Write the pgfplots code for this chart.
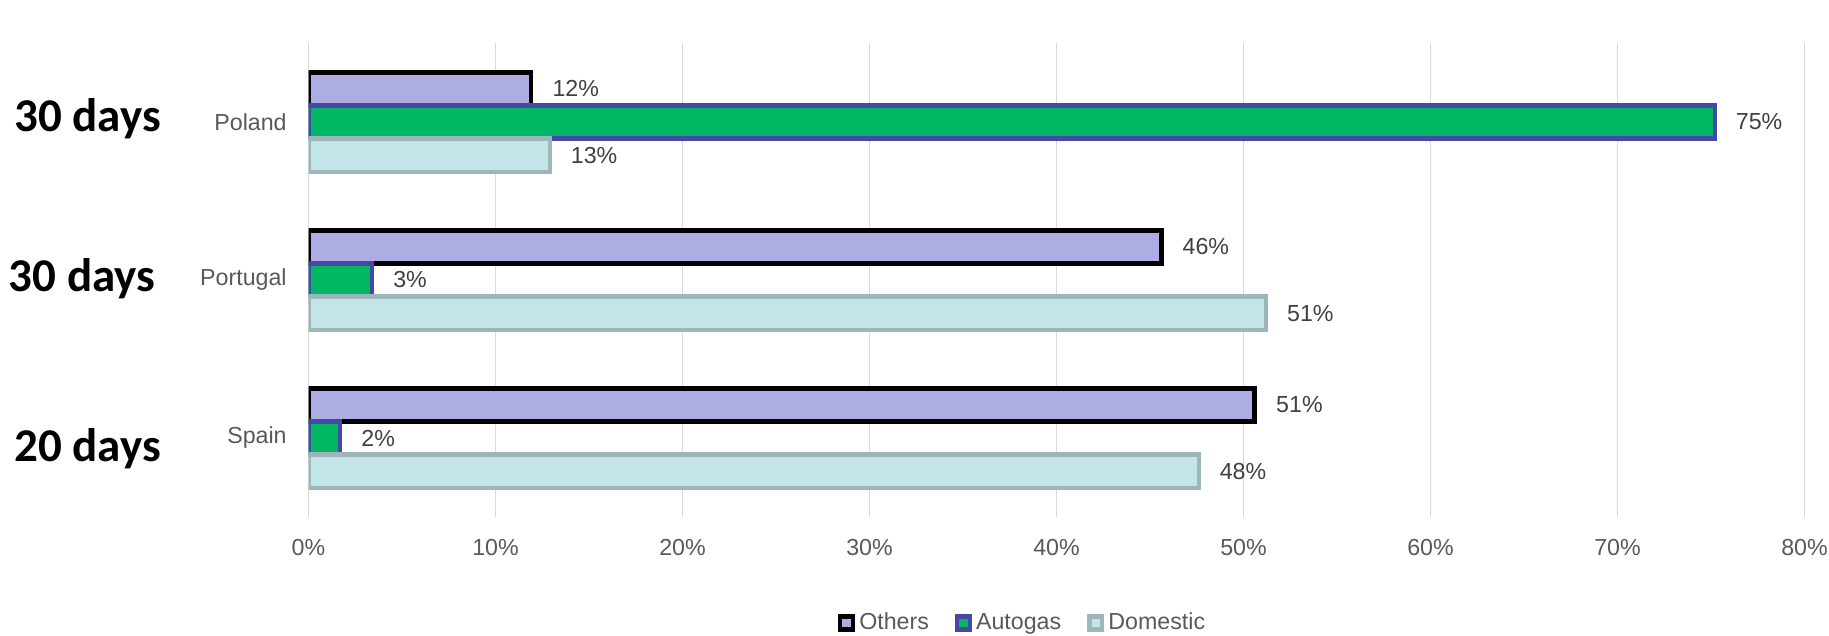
\documentclass[border=0pt]{standalone}
\usepackage{pgfplots}
\pgfplotsset{compat=1.18}
\usepackage{fontspec}
\setmainfont{Liberation Sans}
\newfontfamily\calibri{Carlito}
\definecolor{othfill}{HTML}{ADADE4}
\definecolor{autofill}{HTML}{00B864}
\definecolor{autodraw}{HTML}{4648A8}
\definecolor{domfill}{HTML}{C4E5E7}
\definecolor{domdraw}{HTML}{9DB6B9}
\definecolor{gridc}{HTML}{D9D9D9}
\definecolor{tickc}{HTML}{595959}
\definecolor{labc}{HTML}{404040}
\pgfkeys{/pgf/number format/assume math mode=true}
\pgfplotsset{sqlegend/.style={legend image code/.code={\draw[##1,/tikz/.cd,line width=2.2pt] (0pt,-3.2pt) rectangle (6.4pt,3.2pt);}}}
\newcommand{\lblfont}{\fontsize{11.6}{13}\selectfont}
\begin{document}
\begin{tikzpicture}[x=1pt,y=1pt]
\path[use as bounding box] (0,0) rectangle (914.5,318);
\begin{axis}[
  at={(154.25pt,59.5pt)}, anchor=south west,
  scale only axis, width=748pt, height=237pt,
  xmin=0, xmax=80, ymin=-0.5, ymax=2.5,
  xbar, bar width=0.21,
  axis line style={draw=none},
  major tick length=0,
  /pgf/number format/assume math mode=true,
  xtick={0,10,...,80},
  xticklabel={\pgfmathprintnumber{\tick}\%},
  ytick={0,1,2}, yticklabels={Spain,Portugal,Poland},
  xmajorgrids, ymajorgrids=false,
  grid style={color=gridc, line width=0.75pt},
  tick label style={font=\lblfont, text=tickc},
  xticklabel style={yshift=-7.5pt},
  yticklabel style={xshift=-7.4pt},
  point meta=x,
  nodes near coords={\pgfmathprintnumber[fixed,precision=0,assume math mode=true]{\pgfplotspointmeta}\%},
  every node near coord/.append style={font=\lblfont, text=labc, anchor=west, xshift=6.2pt},
  legend style={at={(0.478,-0.2236)}, anchor=center, draw=none, fill=none,
    font=\lblfont, text=tickc,
    /tikz/every even column/.append style={column sep=11pt}},
  legend columns=3, legend cell align=left,
]
\addplot[sqlegend, bar shift=0.21, fill=othfill, draw=black, line width=2.4pt]
  coordinates {(11.9,2) (45.6,1) (50.6,0)};
\addlegendentry{Others}
\addplot[sqlegend, bar shift=0, fill=autofill, draw=autodraw, line width=2.1pt]
  coordinates {(75.2,2) (3.4,1) (1.7,0)};
\addlegendentry{Autogas}
\addplot[sqlegend, bar shift=-0.21, fill=domfill, draw=domdraw, line width=2.1pt]
  coordinates {(12.9,2) (51.2,1) (47.6,0)};
\addlegendentry{Domestic}
\end{axis}
\node[anchor=base west, inner sep=0pt, font=\calibri\bfseries\fontsize{23.5}{26}\selectfont] at (7,252) {30 days};
\node[anchor=base west, inner sep=0pt, font=\calibri\bfseries\fontsize{23.5}{26}\selectfont] at (4.2,172) {30 days};
\node[anchor=base west, inner sep=0pt, font=\calibri\bfseries\fontsize{23.5}{26}\selectfont] at (7,87) {20 days};
\end{tikzpicture}
\end{document}
